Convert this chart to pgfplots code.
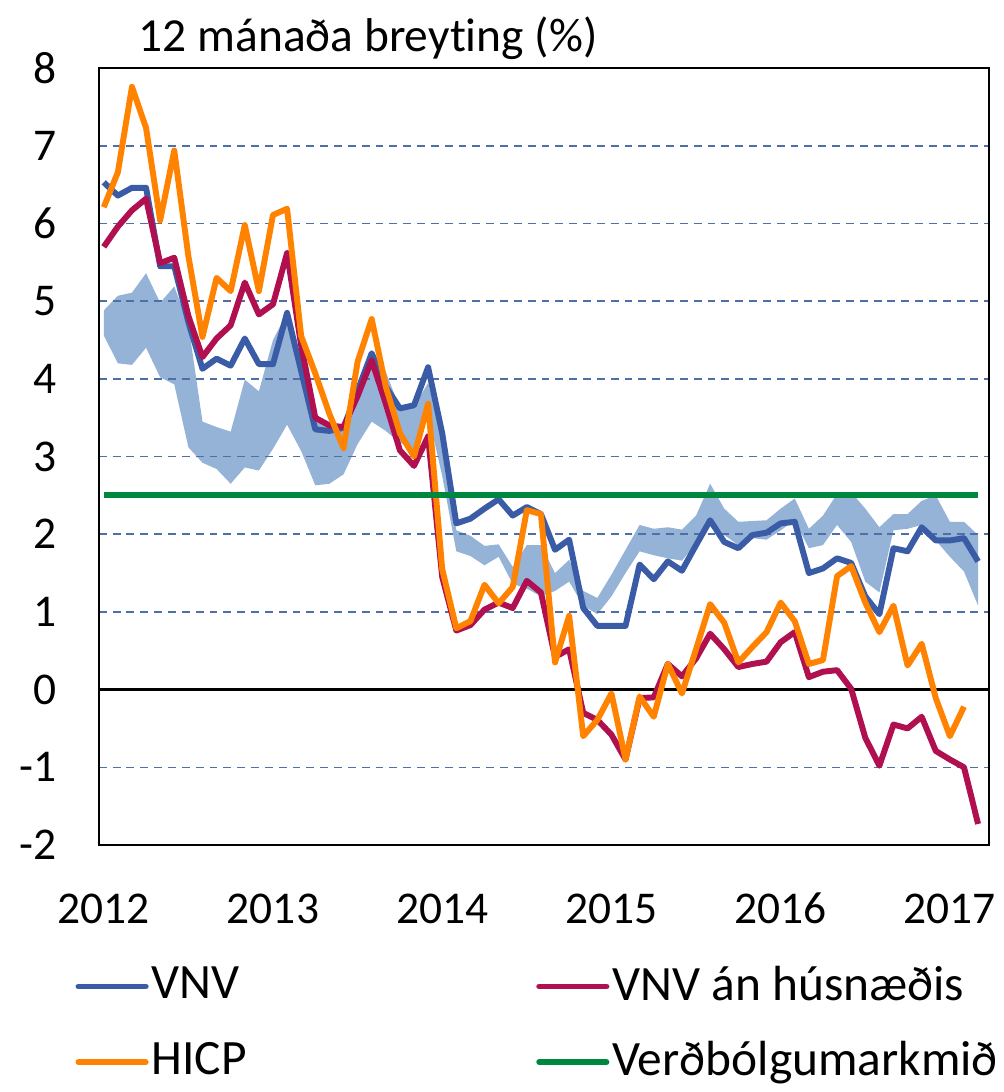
\documentclass[border=0pt]{standalone}
\usepackage{fontspec}
\setmainfont{Carlito}[Ligatures={NoCommon,NoRequired,NoContextual}]
\usepackage{pgfplots}
\pgfplotsset{compat=1.18}
\definecolor{vnvc}{HTML}{3A5BA6}
\definecolor{redc}{HTML}{B0104F}
\definecolor{orc}{HTML}{FF8200}
\definecolor{grc}{HTML}{00873E}
\definecolor{bandc}{HTML}{95B3D7}
\definecolor{gridc}{HTML}{4F6FA8}
\begin{document}
\fontsize{23}{27}\selectfont
\begin{tikzpicture}
\begin{axis}[
  name=ax,
  set layers,
  width=450.5pt, height=393pt, scale only axis,
  xmin=-0.35, xmax=62.79, ymin=-2, ymax=8,
  xtick={0,12,24,36,48,60}, xticklabels={2012,2013,2014,2015,2016,2017},
  ytick={-2,-1,0,1,2,3,4,5,6,7,8},
  major tick length=0pt,
  ymajorgrids,
  major grid style={dash pattern=on 4pt off 3pt, line width=0.75pt, color=gridc},
  axis line style={line width=1.25pt, black},
  tick label style={font=\fontsize{23}{27}\selectfont},
  /pgf/number format/assume math mode=true,
  yticklabel style={anchor=east, inner sep=0pt, xshift=-21pt},
  xticklabel style={anchor=north, inner sep=0pt, text height=16pt, text depth=0pt, yshift=-23.5pt},
  extra y ticks={0}, extra y tick labels={},
  extra y tick style={grid=major, major grid style={solid, black, line width=1.5pt}},
  legend columns=2,
  legend cell align=left,
  legend style={draw=none, fill=none, at={(0,0)}, anchor=north west, xshift=-12pt, yshift=-59pt,
    font=\fontsize{25}{29}\selectfont, inner sep=0pt, row sep=13.5pt,
    nodes={inner xsep=1.5pt},
    /tikz/every even column/.append style={column sep=145pt}},
  legend image code/.code={\draw[#1, line width=3pt, line cap=round] (0pt,0pt) -- (34pt,0pt);},
  every axis plot/.append style={line width=3pt, line join=round},
]
\addplot[fill=bandc, draw=none, forget plot, on layer=axis background] coordinates {
(0,4.88)(1,5.07)(2,5.11)(3,5.36)(4,4.98)(5,5.19)(6,4.70)(7,3.45)(8,3.38)(9,3.32)
(10,3.99)(11,3.84)(12,4.50)(13,4.85)(14,4.30)(15,3.45)(16,3.41)(17,3.39)(18,3.84)(19,4.36)
(20,4.09)(21,3.62)(22,3.64)(23,3.95)(24,3.25)(25,2.05)(26,1.98)(27,1.85)(28,1.87)(29,1.58)
(30,1.86)(31,1.86)(32,1.50)(33,1.67)(34,1.27)(35,1.18)(36,1.48)(37,1.80)(38,2.12)(39,2.07)
(40,2.09)(41,2.06)(42,2.24)(43,2.65)(44,2.33)(45,2.16)(46,2.17)(47,2.18)(48,2.33)(49,2.46)
(50,2.07)(51,2.24)(52,2.52)(53,2.54)(54,2.33)(55,2.09)(56,2.26)(57,2.26)(58,2.43)(59,2.50)
(60,2.16)(61,2.16)(62,1.99)
(62,1.08)(61,1.52)(60,1.71)(59,1.92)(58,2.12)(57,2.07)(56,2.05)(55,1.25)(54,1.39)(53,1.90)
(52,2.12)(51,1.86)(50,1.82)(49,2.18)(48,2.05)(47,1.93)(46,1.95)(45,1.86)(44,1.99)(43,2.20)
(42,1.88)(41,1.66)(40,1.69)(39,1.73)(38,1.78)(37,1.50)(36,1.20)(35,0.97)(34,1.08)(33,1.39)
(32,1.27)(31,1.20)(30,1.30)(29,1.36)(28,1.71)(27,1.60)(26,1.72)(25,1.78)(24,2.75)(23,3.55)
(22,3.09)(21,3.18)(20,3.33)(19,3.45)(18,3.16)(17,2.77)(16,2.65)(15,2.63)(14,3.07)(13,3.41)
(12,3.10)(11,2.82)(10,2.86)(9,2.65)(8,2.84)(7,2.92)(6,3.12)(5,3.93)(4,4.02)(3,4.40)
(2,4.18)(1,4.20)(0,4.56)
} -- cycle;
\addplot[vnvc] coordinates {
(0,6.53)(1,6.36)(2,6.46)(3,6.46)(4,5.45)(5,5.45)(6,4.73)(7,4.13)(8,4.26)(9,4.17)
(10,4.52)(11,4.19)(12,4.19)(13,4.85)(14,4.10)(15,3.35)(16,3.33)(17,3.37)(18,3.85)(19,4.33)
(20,3.90)(21,3.62)(22,3.66)(23,4.15)(24,3.30)(25,2.14)(26,2.20)(27,2.33)(28,2.45)(29,2.24)
(30,2.35)(31,2.26)(32,1.80)(33,1.93)(34,1.05)(35,0.82)(36,0.82)(37,0.82)(38,1.61)(39,1.42)
(40,1.65)(41,1.53)(42,1.86)(43,2.18)(44,1.90)(45,1.82)(46,1.99)(47,2.02)(48,2.14)(49,2.16)
(50,1.50)(51,1.56)(52,1.69)(53,1.63)(54,1.20)(55,0.97)(56,1.82)(57,1.78)(58,2.09)(59,1.92)
(60,1.92)(61,1.95)(62,1.65)
};
\addlegendentry{VNV}
\addplot[redc] coordinates {
(0,5.70)(1,5.96)(2,6.17)(3,6.32)(4,5.49)(5,5.56)(6,4.81)(7,4.28)(8,4.52)(9,4.69)
(10,5.24)(11,4.83)(12,4.96)(13,5.62)(14,4.43)(15,3.50)(16,3.40)(17,3.38)(18,3.78)(19,4.24)
(20,3.68)(21,3.08)(22,2.88)(23,3.26)(24,1.45)(25,0.76)(26,0.83)(27,1.03)(28,1.12)(29,1.05)
(30,1.40)(31,1.25)(32,0.42)(33,0.52)(34,-0.30)(35,-0.39)(36,-0.58)(37,-0.90)(38,-0.11)(39,-0.10)
(40,0.33)(41,0.17)(42,0.40)(43,0.72)(44,0.52)(45,0.29)(46,0.33)(47,0.36)(48,0.61)(49,0.74)
(50,0.16)(51,0.23)(52,0.25)(53,0.01)(54,-0.62)(55,-0.98)(56,-0.45)(57,-0.50)(58,-0.35)(59,-0.79)
(60,-0.90)(61,-1.00)(62,-1.73)
};
\addlegendentry{VNV án húsnæðis}
\addplot[orc] coordinates {
(0,6.21)(1,6.66)(2,7.76)(3,7.23)(4,6.04)(5,6.94)(6,5.58)(7,4.54)(8,5.30)(9,5.13)
(10,5.98)(11,5.13)(12,6.11)(13,6.19)(14,4.55)(15,4.07)(16,3.55)(17,3.11)(18,4.22)(19,4.77)
(20,3.90)(21,3.30)(22,3.00)(23,3.68)(24,1.55)(25,0.79)(26,0.88)(27,1.35)(28,1.11)(29,1.32)
(30,2.31)(31,2.26)(32,0.35)(33,0.95)(34,-0.60)(35,-0.39)(36,-0.05)(37,-0.90)(38,-0.09)(39,-0.35)
(40,0.33)(41,-0.05)(42,0.52)(43,1.10)(44,0.86)(45,0.35)(46,0.55)(47,0.74)(48,1.12)(49,0.88)
(50,0.33)(51,0.38)(52,1.46)(53,1.59)(54,1.12)(55,0.74)(56,1.08)(57,0.31)(58,0.59)(59,-0.11)
(60,-0.60)(61,-0.22)
};
\addlegendentry{HICP}
\addplot[grc] coordinates {(0,2.5)(62,2.5)};
\addlegendentry{Verðbólgumarkmið}
\end{axis}
\node[anchor=base west, font=\fontsize{24}{28}\selectfont, inner sep=0pt] at ([xshift=20pt, yshift=8.5pt]ax.north west) {12 mánaða breyting (\%)};
\pgfresetboundingbox
\path[use as bounding box] ([xshift=-50pt, yshift=-125pt]ax.south west) rectangle ([xshift=7pt, yshift=34.5pt]ax.north east);
\end{tikzpicture}
\end{document}
